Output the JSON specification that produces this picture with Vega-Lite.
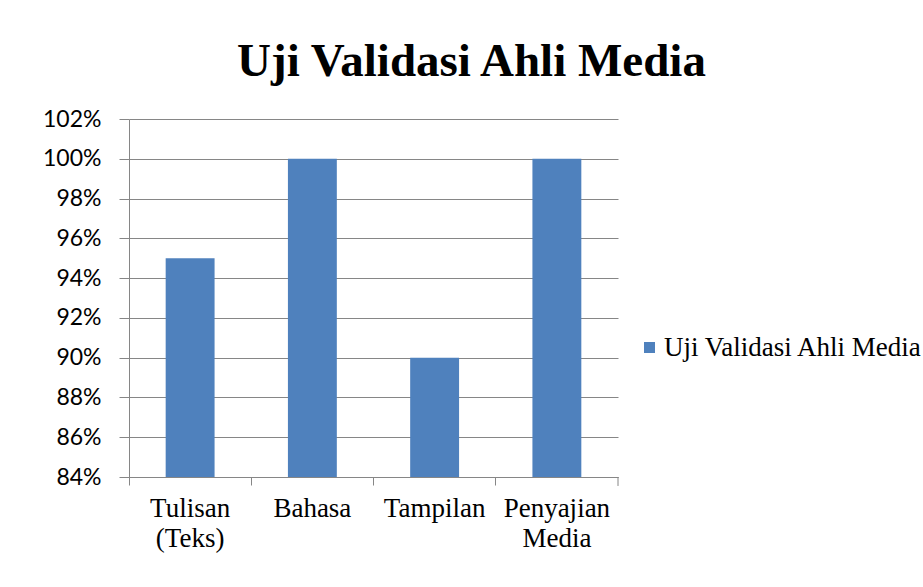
{
  "$schema": "https://vega.github.io/schema/vega-lite/v6.json",
  "width": 489,
  "height": 358,
  "autosize": {"type": "none"},
  "padding": {"left": 129, "top": 119, "right": 305, "bottom": 110},
  "background": "white",
  "title": {
    "text": "Uji Validasi Ahli Media",
    "font": "Liberation Serif",
    "fontSize": 47,
    "fontWeight": "bold",
    "color": "black",
    "anchor": "middle",
    "frame": "group",
    "dx": 98,
    "baseline": "alphabetic",
    "offset": -15
  },
  "data": {
    "values": [
      {"kategori": "Tulisan (Teks)", "nilai": 0.95, "seri": "Uji Validasi Ahli Media"},
      {"kategori": "Bahasa", "nilai": 1.0, "seri": "Uji Validasi Ahli Media"},
      {"kategori": "Tampilan", "nilai": 0.90, "seri": "Uji Validasi Ahli Media"},
      {"kategori": "Penyajian Media", "nilai": 1.0, "seri": "Uji Validasi Ahli Media"}
    ]
  },
  "config": {
    "view": {"stroke": null},
    "axis": {"domainColor": "#868686", "tickColor": "#868686", "gridColor": "#868686", "labelColor": "black"}
  },
  "layer": [
    {
      "mark": {"type": "bar", "width": {"band": 0.4}, "color": "#4F81BD", "clip": true},
      "encoding": {
        "x": {
          "field": "kategori",
          "type": "nominal",
          "sort": ["Tulisan (Teks)", "Bahasa", "Tampilan", "Penyajian Media"],
          "scale": {"paddingInner": 0, "paddingOuter": 0},
          "axis": {
            "title": null,
            "labelAngle": 0,
            "labelFont": "Liberation Serif",
            "labelFontSize": 27,
            "labelLineHeight": 30,
            "labelPadding": 10,
            "tickSize": 8,
            "bandPosition": 0,
            "labelOverlap": false,
            "labelBound": false,
            "labelExpr": "datum.label == 'Tulisan (Teks)' ? ['Tulisan', '(Teks)'] : datum.label == 'Penyajian Media' ? ['Penyajian', 'Media'] : datum.label"
          }
        },
        "y": {
          "field": "nilai",
          "type": "quantitative",
          "scale": {"domain": [0.84, 1.02], "nice": false, "zero": false},
          "axis": {
            "title": null,
            "values": [0.84, 0.86, 0.88, 0.9, 0.92, 0.94, 0.96, 0.98, 1.0, 1.02],
            "format": ".0%",
            "labelFont": "Lato",
            "labelFontSize": 23,
            "labelPadding": 18,
            "labelOverlap": false,
            "labelFlush": false,
            "tickSize": 10,
            "grid": true
          }
        },
        "color": {
          "field": "seri",
          "type": "nominal",
          "scale": {"range": ["#4F81BD"]},
          "legend": {
            "title": null,
            "orient": "none",
            "legendX": 507,
            "legendY": 215,
            "symbolType": "square",
            "symbolSize": 121,
            "symbolStrokeWidth": 0,
            "labelFont": "Liberation Serif",
            "labelFontSize": 27,
            "labelColor": "black",
            "labelOffset": 1,
            "labelLimit": 400
          }
        }
      }
    },
    {
      "data": {"values": [{"kategori": "Penyajian Media", "nilai": 0.84, "nilai2": 0.8355}]},
      "mark": {"type": "rule", "color": "#868686", "clip": false},
      "encoding": {
        "x": {
          "field": "kategori",
          "type": "nominal",
          "bandPosition": 1,
          "sort": ["Tulisan (Teks)", "Bahasa", "Tampilan", "Penyajian Media"],
          "scale": {"paddingInner": 0, "paddingOuter": 0},
          "axis": {
            "title": null,
            "labelAngle": 0,
            "labelFont": "Liberation Serif",
            "labelFontSize": 27,
            "labelLineHeight": 30,
            "labelPadding": 10,
            "tickSize": 8,
            "bandPosition": 0,
            "labelOverlap": false,
            "labelBound": false,
            "labelExpr": "datum.label == 'Tulisan (Teks)' ? ['Tulisan', '(Teks)'] : datum.label == 'Penyajian Media' ? ['Penyajian', 'Media'] : datum.label"
          }
        },
        "y": {
          "field": "nilai",
          "type": "quantitative",
          "scale": {"domain": [0.84, 1.02], "nice": false, "zero": false},
          "axis": {
            "title": null,
            "values": [0.84, 0.86, 0.88, 0.9, 0.92, 0.94, 0.96, 0.98, 1.0, 1.02],
            "format": ".0%",
            "labelFont": "Lato",
            "labelFontSize": 23,
            "labelPadding": 18,
            "labelOverlap": false,
            "labelFlush": false,
            "tickSize": 10,
            "grid": true
          }
        },
        "y2": {"field": "nilai2"}
      }
    }
  ]
}
